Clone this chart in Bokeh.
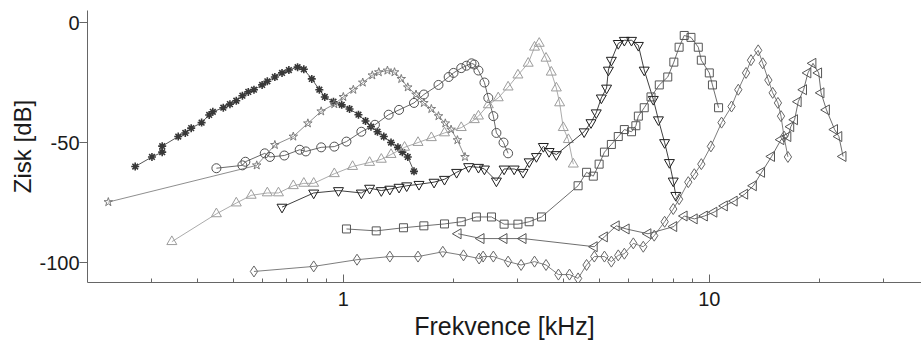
import math
from bokeh.plotting import figure
from bokeh.models import FixedTicker, PrintfTickFormatter, Range1d
from bokeh.embed import file_html
from bokeh.resources import INLINE

# Frequency responses: frequency in kHz, gain in dB
ast_f = [0.27, 0.30, 0.32, 0.32, 0.354, 0.37, 0.384, 0.41, 0.43, 0.44, 0.47, 0.49, 0.51, 0.53, 0.55,
         0.57, 0.60, 0.62, 0.65, 0.68, 0.71, 0.75, 0.78, 0.82, 0.86, 0.89, 0.94, 0.99, 1.04, 1.1,
         1.15, 1.19, 1.24, 1.29, 1.35, 1.41, 1.45, 1.5, 1.56]
ast_db = [-60, -56, -54, -51.5, -47.5, -46, -44, -41.7, -38.5, -37.2, -35.5, -34, -32.6, -30.5, -28.9,
          -28, -26, -24.5, -22.7, -21, -19.8, -18.6, -19.5, -23.5, -28, -31, -33, -34.3, -36, -38.4,
          -41, -43.4, -45.5, -47.5, -50, -52, -54, -56, -62]

star_f = [0.228, 0.58, 0.65, 0.73, 0.80, 0.87, 0.945, 1.0, 1.065, 1.13, 1.2, 1.25, 1.32, 1.38, 1.44,
          1.5, 1.58, 1.66, 1.74, 1.82, 1.9, 1.97, 2.05, 2.15]
star_db = [-74.8, -59.5, -51, -47.5, -42, -37, -34, -31, -28, -25, -22, -20.7, -20, -20.7, -23.5,
           -27, -30, -33.5, -36, -39, -42, -44.6, -49, -56]

circ_f = [0.45, 0.53, 0.54, 0.61, 0.63, 0.69, 0.76, 0.79, 0.87, 0.945, 1.02, 1.12, 1.22, 1.33, 1.42,
          1.56, 1.66, 1.82, 1.94, 2.0, 2.1, 2.17, 2.24, 2.28, 2.34, 2.43, 2.49, 2.57, 2.62, 2.74, 2.82]
circ_db = [-60.7, -59.5, -58, -54.5, -56, -55.4, -53, -53.7, -52, -51.7, -49.6, -45.5, -42.6, -38.4, -36.4,
           -33.5, -30, -26, -22.7, -21, -19, -18, -17, -17.5, -20, -25, -31.4, -39, -46, -50, -54.5]

up_f = [0.34, 0.45, 0.51, 0.56, 0.62, 0.665, 0.73, 0.78, 0.83, 0.945, 1.06, 1.18, 1.27, 1.35, 1.47,
        1.6, 1.74, 1.89, 2.1, 2.28, 2.34, 2.49, 2.65, 2.82, 3.0, 3.2, 3.33, 3.43, 3.58, 3.7,
        3.82, 3.9, 3.99, 4.12, 4.25]
up_db = [-91.3, -79.7, -75.2, -72, -71, -71, -68, -67, -67, -63, -60, -58.3, -57, -55, -52,
         -50, -48, -46, -43.8, -40.5, -39, -34.3, -31.4, -26.9, -21.9, -17, -10.3, -8.7, -14.9, -20.7,
         -27.3, -33.5, -43.8, -48.8, -59]

down_f = [0.68, 0.83, 0.97, 1.12, 1.18, 1.27, 1.34, 1.42, 1.49, 1.61, 1.77, 1.89, 2.04, 2.2, 2.34,
          2.43, 2.62, 2.75, 2.93, 3.1, 3.22, 3.37, 3.52, 3.65, 3.82, 4.55, 4.75, 4.91, 5.07, 5.24,
          5.3, 5.4, 5.64, 5.86, 6.13, 6.4, 6.64, 7.03, 7.26, 7.55, 7.78, 7.97, 8.1]
down_db = [-76.9, -71, -70, -71, -69, -70, -69.4, -68.6, -68, -67.4, -66.5, -65.3, -62.4, -60, -60.3,
           -61, -66, -61, -61, -62.4, -58, -55.8, -51.6, -53.7, -55, -45.5, -41.7, -37.6, -31.4, -27.3,
           -19.8, -15.7, -8.7, -7.4, -7.4, -9.5, -19.8, -32, -40.5, -50, -58.3, -66, -72]

sq_f = [1.02, 1.23, 1.46, 1.66, 1.89, 2.1, 2.31, 2.54, 2.75, 3.0, 3.22, 3.48, 4.38, 4.62, 4.82,
        5.0, 5.17, 5.4, 5.64, 5.86, 6.13, 6.3, 6.4, 6.64, 6.93, 7.3, 7.7, 8.0, 8.27, 8.54,
        8.91, 9.33, 9.51, 10.0, 10.2, 10.6]
sq_db = [-86, -86.8, -85.5, -84.7, -83.9, -83, -81, -81, -84, -84, -83, -81, -68, -62.4, -64,
         -59, -54, -50.8, -47.5, -44.6, -45.5, -43, -39, -35.5, -31, -26, -22.7, -16.5, -10.3, -5.4,
         -6.2, -10.3, -15.7, -21, -26, -35.5]

dia_f = [0.57, 0.83, 1.09, 1.34, 1.6, 1.87, 2.13, 2.35, 2.41, 2.57, 2.82, 3.06, 3.33, 3.58, 3.87,
         4.15, 4.38, 4.62, 4.85, 5.17, 5.4, 5.64, 5.86, 6.2, 6.6, 7.07, 7.55, 7.97, 8.27, 8.76,
         9.1, 9.51, 10.1, 10.8, 11.5, 12.0, 12.6, 13.0, 13.6, 14.0, 14.5, 14.9, 15.4, 15.7, 16.0, 16.4]
dia_db = [-103.7, -101.6, -98.8, -97.5, -97.5, -95.5, -97, -98.3, -97.5, -97.5, -99.6, -101, -99.6, -101, -105,
          -105, -106.6, -101, -97.5, -97.5, -99.6, -97, -96.3, -92, -93.4, -88.8, -83, -77.7, -73.6, -66.5,
          -63.2, -59, -51.6, -41.7, -35, -28, -21, -15.7, -11.6, -17, -24, -29.3, -33.5, -39, -47.5, -56]

left_f = [2.06, 2.38, 2.75, 3.1, 4.85, 5.17, 5.57, 5.93, 6.8, 8.0, 8.54, 9.1, 9.7, 10.3, 11.0,
          11.7, 12.5, 13.2, 13.9, 14.8, 15.7, 16.4, 16.7, 17.1, 17.5, 18.1, 18.6, 19.2, 19.9, 20.2,
          20.9, 22.0, 22.6, 23.2]
left_db = [-88, -90, -90, -90, -93.4, -89.3, -84.7, -86, -88, -85, -80.6, -81.8, -80.6, -79, -76.4,
           -74.4, -71.5, -68, -62.4, -55.8, -48.8, -47.5, -43.4, -40.5, -33, -28, -21, -17, -21, -29.3,
           -36.4, -44.6, -47.5, -55.8]

x_major = [1, 10]
x_minor = [0.3, 0.4, 0.5, 0.6, 0.7, 0.8, 0.9, 2, 3, 4, 5, 6, 7, 8, 9, 20, 30]
y_major = [-100, -50, 0]

FONT = "Liberation Sans"

p = figure(width=921, height=342, x_axis_type="log",
           x_range=Range1d(0.2, 38), y_range=Range1d(-108.3, 5),
           output_backend="svg", toolbar_location=None,
           min_border_left=87, min_border_right=0, min_border_top=10, min_border_bottom=57)
p.outline_line_color = None
p.xgrid.visible = False
p.ygrid.visible = False
p.background_fill_color = "white"
p.border_fill_color = "white"

series = [
    (ast_f, ast_db, "asterisk", "#383838", 8, 1.6, None),
    (star_f, star_db, "star", "#7a7a7a", 9, 1.0, None),
    (circ_f, circ_db, "circle", "#505050", 9, 1.0, None),
    (up_f, up_db, "triangle", "#9c9c9c", 10, 1.0, None),
    (down_f, down_db, "inverted_triangle", "#1e1e1e", 10, 1.0, None),
    (sq_f, sq_db, "square", "#555555", 8, 1.0, None),
    (dia_f, dia_db, "diamond", "#666666", 11, 1.0, None),
    (left_f, left_db, "triangle", "#555555", 10, 1.0, math.pi / 2),
]

for f, db, marker, color, size, lw, ang in series:
    p.line(f, db, line_color=color, line_width=1, line_alpha=0.85)
    kw = dict(marker=marker, size=size, line_color=color, line_width=lw, fill_color=None)
    if ang is not None:
        kw["angle"] = ang
    p.scatter(f, db, **kw)

xa = p.xaxis[0]
xa.ticker = FixedTicker(ticks=x_major, minor_ticks=x_minor)
xa.formatter = PrintfTickFormatter(format="%g")
xa.axis_line_color = "#666666"
xa.major_tick_line_color = "#666666"
xa.minor_tick_line_color = "#666666"
xa.major_tick_in = 8
xa.major_tick_out = 0
xa.minor_tick_in = 4
xa.minor_tick_out = 0
xa.major_label_standoff = 9
xa.major_label_text_font = FONT
xa.major_label_text_font_size = "20px"
xa.major_label_text_color = "#1a1a1a"
xa.axis_label = "Frekvence [kHz]"
xa.axis_label_text_font = FONT
xa.axis_label_text_font_size = "25px"
xa.axis_label_text_font_style = "normal"
xa.axis_label_text_color = "#1a1a1a"
xa.axis_label_standoff = 3

ya = p.yaxis[0]
ya.ticker = FixedTicker(ticks=y_major, minor_ticks=[])
ya.formatter = PrintfTickFormatter(format="%d")
ya.axis_line_color = "#666666"
ya.major_tick_line_color = "#666666"
ya.major_tick_in = 0
ya.major_tick_out = 8
ya.minor_tick_in = 0
ya.minor_tick_out = 0
ya.major_label_standoff = 0
ya.major_label_text_font = FONT
ya.major_label_text_font_size = "20px"
ya.major_label_text_color = "#1a1a1a"
ya.axis_label = "Zisk [dB]"
ya.axis_label_text_font = FONT
ya.axis_label_text_font_size = "24px"
ya.axis_label_text_font_style = "normal"
ya.axis_label_text_color = "#1a1a1a"
ya.axis_label_standoff = 0

open("out.html", "w").write(file_html(p, INLINE))
